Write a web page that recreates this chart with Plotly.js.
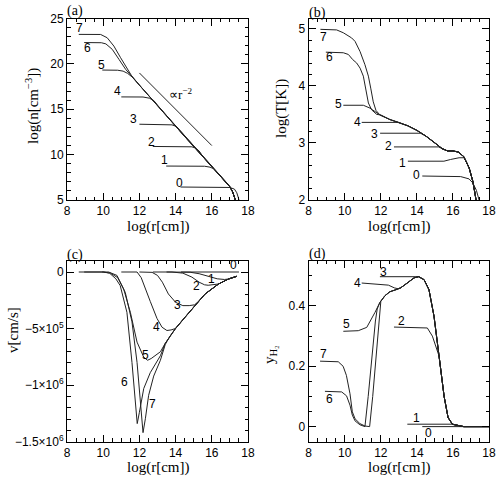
<!DOCTYPE html>
<html>
<head>
<meta charset="utf-8">
<script src="https://cdn.plot.ly/plotly-3.0.1.min.js"></script>
<style>html,body{margin:0;padding:0;background:#fff;}#plot{width:504px;height:478px;}</style>
</head>
<body>
<div id="plot"></div>
<script>
// ---------- DATA ----------
const curveIds = ['0','1','2','3','4','5','6','7'];

// Panel (a): log n [cm^-3] vs log r [cm]
const aR0 = [14.27, 16.5, 17.0, 17.25, 17.38, 17.46, 17.5];
const aN0 = [6.43, 6.42, 6.38, 6.2, 5.8, 5.3, 5.0];
const aR1 = [13.48, 15.0, 15.6, 15.9, 16.1, 16.3, 16.5, 16.8, 17.0, 17.15, 17.25, 17.3];
const aN1 = [8.74, 8.74, 8.72, 8.62, 8.45, 8.05, 7.6, 6.95, 6.45, 5.9, 5.35, 5.0];
const aR2 = [12.74, 14.5, 14.9, 15.1, 15.3, 15.5, 16.0, 16.5, 16.8, 17.0, 17.15, 17.25, 17.3];
const aN2 = [10.9, 10.9, 10.86, 10.72, 10.4, 9.8, 8.7, 7.6, 6.95, 6.45, 5.9, 5.35, 5.0];
const aR3 = [12.0, 13.4, 13.8, 14.05, 14.3, 14.5, 15.0, 15.5, 16.0, 16.5, 16.8, 17.0, 17.15, 17.25, 17.3];
const aN3 = [13.35, 13.35, 13.28, 13.1, 12.55, 12.0, 10.9, 9.8, 8.7, 7.6, 6.95, 6.45, 5.9, 5.35, 5.0];
const aR4 = [11.0, 12.2, 12.55, 12.8, 13.0, 13.5, 14.0, 14.5, 15.0, 15.5, 16.0, 16.5, 16.8, 17.0, 17.15, 17.25, 17.3];
const aN4 = [16.36, 16.35, 16.22, 15.95, 15.45, 14.25, 13.15, 12.0, 10.9, 9.8, 8.7, 7.6, 6.95, 6.45, 5.9, 5.35, 5.0];
const aR5 = [9.95, 10.8, 11.1, 11.35, 11.6, 12.0, 12.5, 13.0, 13.5, 14.0, 14.5, 15.0, 15.5, 16.0, 16.5, 16.8, 17.0, 17.15, 17.25, 17.3];
const aN5 = [19.32, 19.3, 19.2, 18.95, 18.55, 17.65, 16.5, 15.4, 14.25, 13.15, 12.0, 10.9, 9.8, 8.7, 7.6, 6.95, 6.45, 5.9, 5.35, 5.0];
const aR6 = [8.95, 9.9, 10.15, 10.5, 10.87, 11.24, 11.5, 12.0, 12.5, 13.0, 13.5, 14.0, 14.5, 15.0, 15.5, 16.0, 16.5, 16.8, 17.0, 17.15, 17.25, 17.3];
const aN6 = [22.35, 22.33, 22.2, 21.6, 20.5, 19.4, 18.8, 17.65, 16.5, 15.4, 14.25, 13.15, 12.0, 10.9, 9.8, 8.7, 7.6, 6.95, 6.45, 5.9, 5.35, 5.0];
const aR7 = [8.65, 9.86, 10.22, 10.59, 10.96, 11.33, 11.55, 12.0, 12.5, 13.0, 13.5, 14.0, 14.5, 15.0, 15.5, 16.0, 16.5, 16.8, 17.0, 17.15, 17.25, 17.3];
const aN7 = [23.25, 23.24, 22.88, 21.96, 20.68, 19.4, 18.75, 17.65, 16.5, 15.4, 14.25, 13.15, 12.0, 10.9, 9.8, 8.7, 7.6, 6.95, 6.45, 5.9, 5.35, 5.0];
const slopeR = [12, 16];
const slopeN = [19, 11];

// Panel (b): log T [K] vs log r [cm]
const bR0 = [14.3, 16.43, 16.89, 17.1, 17.3, 17.4, 17.45];
const bT0 = [2.42, 2.41, 2.37, 2.3, 2.17, 2.07, 2.0];
const bR1 = [13.5, 15.5, 15.87, 16.34, 16.61, 16.75, 16.9, 17.1, 17.22, 17.28];
const bT1 = [2.68, 2.68, 2.71, 2.74, 2.74, 2.67, 2.56, 2.33, 2.12, 2.0];
const bR2 = [12.73, 15.2, 15.4, 15.7, 16.0, 16.3, 16.6, 16.9, 17.1, 17.22, 17.28];
const bT2 = [2.93, 2.93, 2.9, 2.86, 2.86, 2.84, 2.76, 2.56, 2.33, 2.12, 2.0];
const bR3 = [11.96, 14.2, 14.5, 15.0, 15.4, 15.7, 16.0, 16.3, 16.6, 16.9, 17.1, 17.22, 17.28];
const bT3 = [3.17, 3.17, 3.12, 3.0, 2.9, 2.86, 2.86, 2.84, 2.76, 2.56, 2.33, 2.12, 2.0];
const bR4 = [10.94, 12.95, 13.5, 14.0, 14.5, 15.0, 15.4, 15.7, 16.0, 16.3, 16.6, 16.9, 17.1, 17.22, 17.28];
const bT4 = [3.36, 3.36, 3.3, 3.22, 3.12, 3.0, 2.9, 2.86, 2.86, 2.84, 2.76, 2.56, 2.33, 2.12, 2.0];
const bR5 = [9.92, 11.03, 11.4, 11.68, 11.95, 12.5, 13.0, 13.5, 14.0, 14.5, 15.0, 15.4, 15.7, 16.0, 16.3, 16.6, 16.9, 17.1, 17.22, 17.28];
const bT5 = [3.66, 3.66, 3.61, 3.55, 3.49, 3.41, 3.36, 3.3, 3.22, 3.12, 3.0, 2.9, 2.86, 2.86, 2.84, 2.76, 2.56, 2.33, 2.12, 2.0];
const bR6 = [8.95, 9.92, 10.2, 10.44, 10.66, 10.85, 11.03, 11.18, 11.31, 11.49, 11.77, 12.0, 12.5, 13.0, 13.5, 14.0, 14.5, 15.0, 15.4, 15.7, 16.0, 16.3, 16.6, 16.9, 17.1, 17.22, 17.28];
const bT6 = [4.59, 4.58, 4.55, 4.46, 4.4, 4.31, 4.17, 3.9, 3.7, 3.58, 3.5, 3.49, 3.41, 3.36, 3.3, 3.22, 3.12, 3.0, 2.9, 2.86, 2.86, 2.84, 2.76, 2.56, 2.33, 2.12, 2.0];
const bR7 = [8.65, 9.55, 9.92, 10.2, 10.38, 10.57, 10.85, 11.12, 11.31, 11.44, 11.58, 11.73, 11.95, 12.5, 13.0, 13.5, 14.0, 14.5, 15.0, 15.4, 15.7, 16.0, 16.3, 16.6, 16.9, 17.1, 17.22, 17.28];
const bT7 = [4.99, 4.98, 4.93, 4.87, 4.84, 4.78, 4.6, 4.37, 4.17, 3.96, 3.72, 3.57, 3.49, 3.41, 3.36, 3.3, 3.22, 3.12, 3.0, 2.9, 2.86, 2.86, 2.84, 2.76, 2.56, 2.33, 2.12, 2.0];

// Panel (c): v [cm/s] vs log r [cm]
const cR0 = [14.3, 17.5];
const cV0 = [0, 0];
const cR1 = [13.5, 14.8, 15.3, 15.8, 16.3, 16.7, 16.92, 17.38];
const cV1 = [0, -0.02e5, -0.15e5, -0.4e5, -0.6e5, -0.66e5, -0.62e5, -0.38e5];
const cR2 = [12.74, 13.8, 14.4, 14.9, 15.3, 15.6, 15.8, 16.05, 16.37, 16.92, 17.38];
const cV2 = [0, 0, -0.1e5, -0.45e5, -0.9e5, -1.13e5, -1.17e5, -1.12e5, -1.06e5, -0.62e5, -0.38e5];
const cR3 = [12.0, 12.7, 13.0, 13.27, 13.6, 14.0, 14.4, 14.75, 15.05, 15.3, 15.63, 16.37, 16.92, 17.38];
const cV3 = [0, -0.03e5, -0.3e5, -0.9e5, -1.94e5, -2.68e5, -2.97e5, -2.97e5, -2.9e5, -2.54e5, -1.94e5, -1.06e5, -0.62e5, -0.38e5];
const cR4 = [11.0, 11.87, 12.1, 12.23, 12.6, 12.97, 13.25, 13.52, 13.75, 13.98, 14.5, 14.9, 15.3, 15.63, 16.37, 16.92, 17.38];
const cV4 = [0, 0, -0.5e5, -1.0e5, -2.6e5, -4.1e5, -4.88e5, -5.17e5, -5.12e5, -5.0e5, -4.03e5, -3.26e5, -2.54e5, -1.94e5, -1.06e5, -0.62e5, -0.38e5];
const cR5 = [9.95, 10.3, 10.76, 11.13, 11.5, 11.87, 12.24, 12.45, 12.65, 12.9, 13.16, 13.43, 13.7, 13.98, 14.5, 14.9, 15.3, 15.63, 16.37, 16.92, 17.38];
const cV5 = [0, 0, -0.3e5, -1.5e5, -3.56e5, -6.2e5, -7.53e5, -7.8e5, -7.65e5, -7.35e5, -7.05e5, -6.3e5, -5.65e5, -5.03e5, -4.03e5, -3.26e5, -2.54e5, -1.94e5, -1.06e5, -0.62e5, -0.38e5];
const cR6 = [8.95, 10.0, 10.35, 10.7, 10.94, 11.31, 11.59, 11.78, 11.88, 12.0, 12.24, 12.6, 13.16, 13.43, 13.7, 13.98, 14.5, 14.9, 15.3, 15.63, 16.37, 16.92, 17.38];
const cV6 = [0, 0, -0.1e5, -0.6e5, -1.2e5, -3.56e5, -8.0e5, -11.5e5, -13.4e5, -12.4e5, -10.3e5, -8.9e5, -7.4e5, -6.3e5, -5.65e5, -5.03e5, -4.03e5, -3.26e5, -2.54e5, -1.94e5, -1.06e5, -0.62e5, -0.38e5];
const cR7 = [8.65, 10.0, 10.4, 10.8, 11.22, 11.59, 11.87, 12.05, 12.2, 12.33, 12.51, 12.79, 13.16, 13.43, 13.7, 13.98, 14.5, 14.9, 15.3, 15.63, 16.37, 16.92, 17.38];
const cV7 = [0, 0, -0.1e5, -0.5e5, -1.8e5, -4.4e5, -8.0e5, -11.5e5, -14.2e5, -12.97e5, -10.9e5, -9.2e5, -7.8e5, -6.4e5, -5.65e5, -5.03e5, -4.03e5, -3.26e5, -2.54e5, -1.94e5, -1.06e5, -0.62e5, -0.38e5];

// Panel (d): y_H2 vs log r [cm]
const dR0 = [14.3, 18.0];
const dY0 = [0.0, 0.0];
const dR1 = [13.47, 15.9, 16.3, 16.6, 18.0];
const dY1 = [0.008, 0.008, 0.003, 0.0, 0.0];
const dR2 = [12.73, 14.58, 14.86, 15.04, 15.13, 15.23, 15.51, 15.73, 15.97, 16.6, 18.0];
const dY2 = [0.33, 0.327, 0.3, 0.267, 0.25, 0.234, 0.1, 0.03, 0.008, 0.0, 0.0];
const dR3 = [11.95, 13.9, 14.1, 14.4, 14.67, 14.95, 15.23, 15.51, 15.73, 15.97, 16.6, 18.0];
const dY3 = [0.497, 0.497, 0.497, 0.487, 0.454, 0.366, 0.234, 0.1, 0.03, 0.008, 0.0, 0.0];
const dR4 = [10.94, 12.42, 12.75, 12.95, 13.1, 13.47, 13.84, 14.1, 14.4, 14.67, 14.95, 15.23, 15.51, 15.73, 15.97, 16.6, 18.0];
const dY4 = [0.476, 0.469, 0.46, 0.457, 0.46, 0.476, 0.493, 0.497, 0.487, 0.454, 0.366, 0.234, 0.1, 0.03, 0.008, 0.0, 0.0];
const dR5 = [9.92, 10.75, 11.22, 11.49, 11.68, 11.95, 12.23, 12.5, 12.9, 13.1, 13.47, 13.84, 14.1, 14.4, 14.67, 14.95, 15.23, 15.51, 15.73, 15.97, 16.6, 18.0];
const dY5 = [0.316, 0.318, 0.329, 0.357, 0.379, 0.412, 0.434, 0.447, 0.455, 0.46, 0.476, 0.493, 0.497, 0.487, 0.454, 0.366, 0.234, 0.1, 0.03, 0.008, 0.0, 0.0];
const dR6 = [8.9, 9.83, 10.1, 10.29, 10.42, 10.57, 10.84, 11.12, 11.3, 11.5, 11.7, 11.8, 11.95, 12.23, 12.5, 12.9, 13.1, 13.47, 13.84, 14.1, 14.4, 14.67, 14.95, 15.23, 15.51, 15.73, 15.97, 16.6, 18.0];
const dY6 = [0.117, 0.115, 0.102, 0.071, 0.038, 0.019, 0.006, 0.0, 0.1, 0.23, 0.35, 0.39, 0.412, 0.434, 0.447, 0.455, 0.46, 0.476, 0.493, 0.497, 0.487, 0.454, 0.366, 0.234, 0.1, 0.03, 0.008, 0.0, 0.0];
const dR7 = [8.63, 9.64, 9.91, 10.09, 10.29, 10.42, 10.57, 10.84, 11.12, 11.38, 11.55, 11.75, 11.9, 12.0, 12.23, 12.5, 12.9, 13.1, 13.47, 13.84, 14.1, 14.4, 14.67, 14.95, 15.23, 15.51, 15.73, 15.97, 16.6, 18.0];
const dY7 = [0.217, 0.215, 0.2, 0.17, 0.109, 0.049, 0.026, 0.01, 0.002, 0.0, 0.1, 0.25, 0.36, 0.415, 0.434, 0.447, 0.455, 0.46, 0.476, 0.493, 0.497, 0.487, 0.454, 0.366, 0.234, 0.1, 0.03, 0.008, 0.0, 0.0];

// ---------- BUILD ----------
const panels = [
  {xs:[aR0,aR1,aR2,aR3,aR4,aR5,aR6,aR7], ys:[aN0,aN1,aN2,aN3,aN4,aN5,aN6,aN7], xa:'x', ya:'y'},
  {xs:[bR0,bR1,bR2,bR3,bR4,bR5,bR6,bR7], ys:[bT0,bT1,bT2,bT3,bT4,bT5,bT6,bT7], xa:'x2', ya:'y2'},
  {xs:[cR0,cR1,cR2,cR3,cR4,cR5,cR6,cR7], ys:[cV0,cV1,cV2,cV3,cV4,cV5,cV6,cV7], xa:'x3', ya:'y3'},
  {xs:[dR0,dR1,dR2,dR3,dR4,dR5,dR6,dR7], ys:[dY0,dY1,dY2,dY3,dY4,dY5,dY6,dY7], xa:'x4', ya:'y4'}
];
const LINE = {color:'#222', width:1};
const traces = [];
panels.forEach(p => {
  p.xs.forEach((xv, i) => {
    traces.push({x:xv, y:p.ys[i], xaxis:p.xa, yaxis:p.ya, mode:'lines', line:LINE,
                 name:curveIds[i], showlegend:false, hoverinfo:'skip'});
  });
});
traces.push({x:slopeR, y:slopeN, xaxis:'x', yaxis:'y', mode:'lines', line:LINE, showlegend:false, hoverinfo:'skip'});

const SANS = '"Liberation Sans", Arial, sans-serif';
const SERIF = '"Liberation Serif", "Times New Roman", serif';
const TICKF = {family:SANS, size:12, color:'#000'};
const TITLEF = {family:SERIF, size:15, color:'#000'};

function xax(dom, anchor){
  return {domain:dom, anchor:anchor, range:[8,18], tick0:8, dtick:2, ticks:'inside', ticklen:7,
    tickwidth:1, tickcolor:'#000', mirror:'ticks', showline:true, linecolor:'#000', linewidth:1,
    showgrid:false, zeroline:false, tickfont:TICKF, automargin:false,
    minor:{ticks:'inside', ticklen:3.5, dtick:0.5, tick0:8, tickcolor:'#000', showgrid:false}};
}
function yax(dom, anchor, extra){
  const base = {domain:dom, anchor:anchor, ticks:'inside', ticklen:7, tickwidth:1, tickcolor:'#000',
    mirror:'ticks', showline:true, linecolor:'#000', linewidth:1, showgrid:false, zeroline:false,
    tickfont:TICKF, automargin:false};
  return Object.assign(base, extra);
}
const XD1 = [67/504, 248/504], XD2 = [308.7/504, 489/504];
const YD1 = [(478-200)/478, (478-18.5)/478], YD2 = [(478-441.7)/478, (478-260.7)/478];

// label positions (data coords) for curve numbers
const labA = [[14.19,6.84],[13.38,9.4],[12.66,11.35],[11.68,13.9],[10.8,17.0],[9.9,19.9],[9.14,21.78],[8.68,23.98]];
const labB = [[13.97,2.44],[13.21,2.65],[12.44,2.94],[11.66,3.15],[10.68,3.36],[9.66,3.68],[9.14,4.5],[8.83,4.86]];
const labC = [[17.2,0.59e5],[15.97,-0.64e5],[15.18,-1.23e5],[14.08,-2.94e5],[12.97,-4.9e5],[12.36,-7.3e5],[11.17,-9.76e5],[12.75,-11.7e5]];
const labD = [[14.66,-0.021],[14.0,0.028],[13.17,0.35],[12.16,0.514],[10.68,0.477],[10.12,0.34],[9.14,0.092],[8.83,0.24]];
const annotations = [];
[[labA,'x','y'],[labB,'x2','y2'],[labC,'x3','y3'],[labD,'x4','y4']].forEach(([lab,xr,yr]) => {
  lab.forEach((p,i) => annotations.push({x:p[0], y:p[1], xref:xr, yref:yr, text:curveIds[i],
    showarrow:false, font:{family:SANS, size:12, color:'#000'}, xanchor:'center', yanchor:'middle'}));
});
annotations.push({x:14.26, y:16.65, xref:'x', yref:'y', text:'∝r<sup>−2</sup>', showarrow:false,
  font:{family:SERIF, size:13, color:'#000'}});
[['(a)',75,11.5],['(b)',317,13],['(c)',75,255],['(d)',317,254]].forEach(([t,px,py]) => {
  annotations.push({x:px/504, y:1-py/478, xref:'paper', yref:'paper', text:t, showarrow:false,
    font:{family:SERIF, size:14, color:'#000'}, xanchor:'center', yanchor:'middle'});
});
// axis titles (paper positions)
const axisTitles = [
  ['log(r[cm])', 157.5, 226, 0], ['log(r[cm])', 399, 226, 0],
  ['log(r[cm])', 157.5, 467, 0], ['log(r[cm])', 399, 467, 0],
  ['log(n[cm<sup>−3</sup>])', 33, 106, -90], ['log(T[K])', 281, 109, -90],
  ['v[cm/s]', 13, 330, -90], ['y<sub>H₂</sub>', 270, 355, -90]
];
axisTitles.forEach(([t,px,py,ang]) => {
  annotations.push({x:px/504, y:1-py/478, xref:'paper', yref:'paper', text:t, showarrow:false,
    textangle:ang, font:TITLEF, xanchor:'center', yanchor:'middle'});
});

const layout = {
  width:504, height:478, margin:{l:0, r:0, t:0, b:0}, paper_bgcolor:'#fff', plot_bgcolor:'#fff',
  showlegend:false,
  xaxis: xax(XD1,'y'), xaxis2: xax(XD2,'y2'), xaxis3: xax(XD1,'y3'), xaxis4: xax(XD2,'y4'),
  yaxis: yax(YD1,'x', {range:[5,25], tick0:5, dtick:5,
    minor:{ticks:'inside', ticklen:3.5, dtick:1, tick0:5, tickcolor:'#000'}}),
  yaxis2: yax(YD1,'x2', {range:[2,5.18], tick0:2, dtick:1,
    minor:{ticks:'inside', ticklen:3.5, dtick:0.2, tick0:2, tickcolor:'#000'}}),
  yaxis3: yax(YD2,'x3', {range:[-1.5e6,1e5], tickmode:'array', tickvals:[0,-5e5,-1e6,-1.5e6],
    ticktext:['0','−5×10<sup>5</sup>','−1×10<sup>6</sup>','−1.5×10<sup>6</sup>'],
    minor:{ticks:'inside', ticklen:3.5, tickmode:'linear', dtick:1e5, tick0:0, tickcolor:'#000'}}),
  yaxis4: yax(YD2,'x4', {range:[-0.05,0.55], tick0:0, dtick:0.2,
    minor:{ticks:'inside', ticklen:3.5, dtick:0.05, tick0:0, tickcolor:'#000'}}),
  annotations: annotations
};
Plotly.newPlot('plot', traces, layout, {displayModeBar:false, staticPlot:true});
</script>
</body>
</html>
